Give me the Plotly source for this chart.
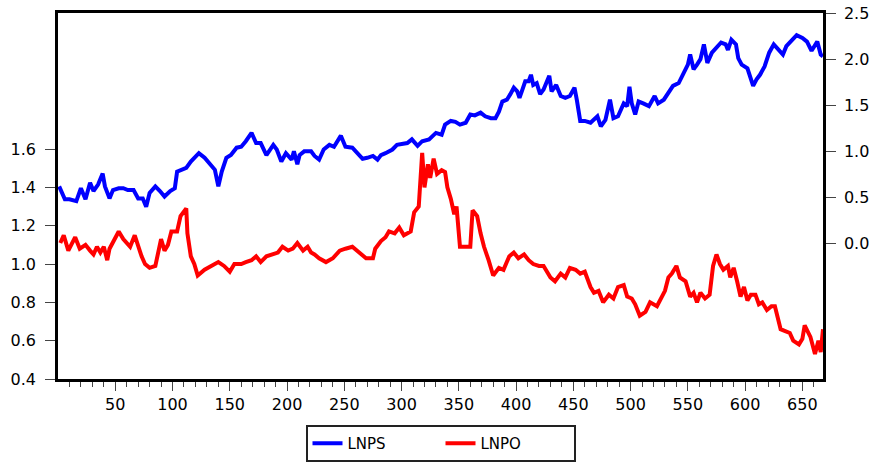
import plotly.graph_objects as go

# LNPS (right axis) - observation index and value
lnps_obs = [1, 6, 10, 16, 20, 24, 28, 31, 35, 39, 41, 45, 48, 53, 57, 61, 66, 70, 74, 77,
            80, 85, 89, 93, 98, 102, 104, 108, 112, 116, 123, 128, 134, 137, 140, 143, 147, 151, 156, 160,
            164, 169, 173, 177, 182, 188, 191, 195, 199, 204, 206, 209, 211, 215, 221, 224, 228, 232, 237, 241,
            247, 251, 257, 261, 266, 270, 275, 279, 282, 286, 292, 296, 301, 305, 309, 314, 318, 324, 330, 335,
            338, 343, 347, 351, 356, 360, 364, 369, 373, 378, 382, 385, 388, 392, 395, 398, 401, 403, 405, 408,
            411, 413, 415, 418, 421, 424, 427, 429, 431, 435, 439, 443, 447, 451, 453, 456, 460, 465, 471, 474,
            478, 482, 485, 489, 494, 497, 499, 501, 504, 507, 511, 516, 521, 524, 529, 533, 537, 542, 546, 550,
            552, 555, 558, 561, 564, 567, 571, 575, 579, 583, 585, 588, 592, 594, 597, 602, 604, 607, 610, 613,
            617, 621, 625, 629, 633, 636, 641, 645, 650, 654, 658, 663, 666, 668]
lnps_val = [0.62, 0.48, 0.48, 0.46, 0.60, 0.48, 0.66, 0.57, 0.64, 0.76, 0.62, 0.49, 0.58, 0.60, 0.60, 0.58, 0.58, 0.49, 0.49, 0.40,
            0.55, 0.62, 0.57, 0.51, 0.57, 0.60, 0.78, 0.80, 0.82, 0.89, 0.98, 0.93, 0.84, 0.80, 0.62, 0.78, 0.93, 0.96, 1.04, 1.05,
            1.11, 1.20, 1.09, 1.09, 0.96, 1.07, 1.02, 0.89, 0.98, 0.91, 1.00, 0.86, 0.96, 1.00, 1.00, 0.95, 0.91, 1.02, 1.07, 1.05,
            1.17, 1.05, 1.04, 0.98, 0.92, 0.93, 0.95, 0.91, 0.96, 0.98, 1.02, 1.07, 1.08, 1.09, 1.13, 1.06, 1.11, 1.13, 1.20, 1.18,
            1.29, 1.33, 1.32, 1.29, 1.31, 1.40, 1.39, 1.42, 1.38, 1.36, 1.36, 1.43, 1.54, 1.56, 1.62, 1.69, 1.65, 1.58, 1.65, 1.76,
            1.76, 1.83, 1.72, 1.74, 1.62, 1.67, 1.76, 1.82, 1.65, 1.72, 1.60, 1.58, 1.60, 1.69, 1.56, 1.33, 1.33, 1.31, 1.38, 1.27,
            1.34, 1.56, 1.36, 1.38, 1.52, 1.49, 1.70, 1.52, 1.40, 1.54, 1.52, 1.49, 1.60, 1.52, 1.56, 1.63, 1.71, 1.74, 1.85, 1.94,
            2.05, 1.89, 1.94, 2.00, 2.16, 1.96, 2.07, 2.12, 2.18, 2.16, 2.10, 2.21, 2.16, 2.01, 1.94, 1.90, 1.83, 1.71, 1.78, 1.83,
            1.92, 2.07, 2.16, 2.10, 2.05, 2.14, 2.21, 2.26, 2.23, 2.19, 2.09, 2.19, 2.05, 2.03]

# LNPO (left axis)
lnpo_obs = [2, 5, 9, 15, 19, 24, 28, 31, 34, 37, 40, 43, 45, 49, 53, 57, 60, 63, 67, 70,
            73, 76, 80, 85, 88, 90, 93, 96, 99, 104, 107, 110, 112, 113, 116, 119, 122, 128, 134, 140,
            145, 150, 154, 160, 164, 169, 173, 177, 182, 186, 192, 196, 201, 205, 209, 214, 218, 221, 224, 228,
            234, 240, 246, 251, 257, 263, 269, 275, 277, 282, 286, 289, 294, 298, 302, 308, 311, 315, 318, 320,
            323, 325, 328, 331, 335, 338, 340, 343, 346, 348, 351, 356, 360, 362, 366, 369, 372, 376, 380, 385,
            389, 394, 398, 402, 407, 411, 415, 420, 424, 430, 434, 439, 443, 447, 452, 456, 460, 465, 468, 472,
            476, 481, 485, 489, 494, 497, 501, 504, 508, 513, 517, 523, 527, 530, 533, 536, 540, 543, 548, 552,
            555, 558, 561, 565, 569, 572, 575, 578, 581, 585, 587, 590, 593, 596, 599, 602, 605, 609, 612, 615,
            619, 623, 626, 631, 635, 639, 642, 647, 650, 652, 657, 661, 664, 666, 668]
lnpo_val = [1.11, 1.15, 1.07, 1.14, 1.08, 1.10, 1.07, 1.05, 1.09, 1.06, 1.09, 1.02, 1.08, 1.13, 1.17, 1.13, 1.11, 1.09, 1.15, 1.09,
            1.04, 1.00, 0.98, 0.99, 1.07, 1.13, 1.07, 1.10, 1.17, 1.17, 1.25, 1.27, 1.29, 1.16, 1.04, 1.00, 0.94, 0.97, 0.99, 1.01,
            0.99, 0.96, 1.00, 1.00, 1.01, 1.02, 1.04, 1.01, 1.04, 1.05, 1.06, 1.09, 1.07, 1.08, 1.11, 1.07, 1.09, 1.06, 1.05, 1.03,
            1.01, 1.03, 1.07, 1.08, 1.09, 1.06, 1.03, 1.03, 1.08, 1.12, 1.14, 1.17, 1.16, 1.19, 1.15, 1.17, 1.27, 1.30, 1.58, 1.40,
            1.52, 1.45, 1.55, 1.47, 1.49, 1.48, 1.40, 1.34, 1.26, 1.30, 1.09, 1.09, 1.09, 1.28, 1.25, 1.16, 1.09, 1.02, 0.94, 0.98,
            0.97, 1.04, 1.06, 1.03, 1.05, 1.02, 1.00, 0.99, 0.99, 0.93, 0.91, 0.95, 0.93, 0.98, 0.97, 0.95, 0.96, 0.88, 0.85, 0.86,
            0.80, 0.84, 0.82, 0.88, 0.89, 0.83, 0.82, 0.79, 0.73, 0.75, 0.80, 0.78, 0.83, 0.86, 0.93, 0.95, 0.99, 0.93, 0.91, 0.83,
            0.85, 0.80, 0.85, 0.82, 0.84, 0.99, 1.05, 1.00, 0.97, 0.99, 0.93, 0.98, 0.91, 0.83, 0.88, 0.81, 0.84, 0.84, 0.79, 0.80,
            0.76, 0.78, 0.78, 0.66, 0.65, 0.64, 0.60, 0.58, 0.61, 0.68, 0.62, 0.53, 0.60, 0.54, 0.66]

x_major = [50, 100, 150, 200, 250, 300, 350, 400, 450, 500, 550, 600, 650]
x_minor = list(range(10, 670, 10))
left_ticks = [0.4, 0.6, 0.8, 1.0, 1.2, 1.4, 1.6]
right_ticks = [0.0, 0.5, 1.0, 1.5, 2.0, 2.5]

FONT = "DejaVu Sans, Arial, sans-serif"
TICKC = "#444444"

fig = go.Figure()
fig.add_trace(go.Scatter(x=lnps_obs, y=lnps_val, name="LNPS", mode="lines",
                         line=dict(color="#0000FF", width=4), yaxis="y2"))
fig.add_trace(go.Scatter(x=lnpo_obs, y=lnpo_val, name="LNPO", mode="lines",
                         line=dict(color="#FF0000", width=4), yaxis="y"))

fig.update_layout(
    width=873, height=464,
    margin=dict(l=58, r=50, t=13, b=85, autoexpand=False),
    paper_bgcolor="white", plot_bgcolor="white",
    font=dict(family=FONT, size=16, color="black"),
    showlegend=True,
    legend=dict(orientation="h", x=0.5, xanchor="center", y=-0.126, yanchor="top",
                bordercolor="#222222", borderwidth=2, font=dict(size=15),
                entrywidth=88, entrywidthmode="pixels", tracegroupgap=0),
    xaxis=dict(range=[0, 668], tickmode="array", tickvals=x_major,
               ticktext=[str(v) for v in x_major], ticks="outside", ticklen=9,
               tickwidth=1, tickcolor=TICKC, automargin=False,
               minor=dict(tickmode="array", tickvals=x_minor, ticks="outside",
                          ticklen=5, tickwidth=1, tickcolor=TICKC),
               showgrid=False, zeroline=False, showline=True, linewidth=2.5,
               linecolor="black", mirror=True),
    yaxis=dict(range=[0.4, 2.31], tickmode="array", tickvals=left_ticks,
               ticktext=[f"{v:.1f}" for v in left_ticks], ticks="outside", ticklen=10,
               tickwidth=1, tickcolor=TICKC, ticklabelstandoff=6, automargin=False,
               showgrid=False, zeroline=False, showline=True, linewidth=2.5,
               linecolor="black", mirror=True),
    yaxis2=dict(range=[-1.468, 2.5], overlaying="y", side="right", tickmode="array",
                tickvals=right_ticks, ticktext=[f"{v:.1f}" for v in right_ticks],
                ticks="outside", ticklen=10, tickwidth=1, tickcolor=TICKC,
                ticklabelstandoff=5, automargin=False,
                showgrid=False, zeroline=False, showline=True, linewidth=2.5,
                linecolor="black"),
)

fig.write_html("out.html", config={"displayModeBar": False},
               post_script="document.body.style.margin='0';document.body.style.overflow='hidden';")
